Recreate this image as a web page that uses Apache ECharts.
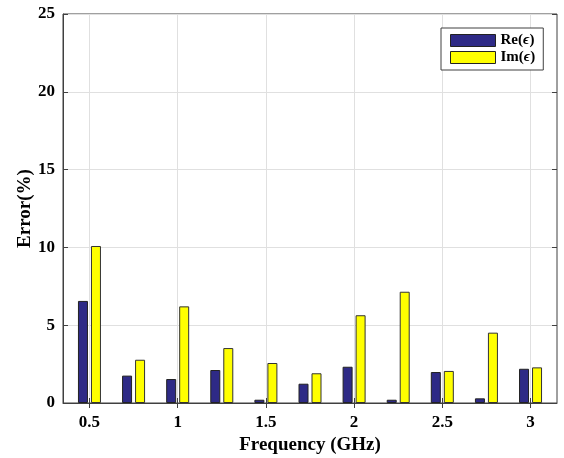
<!DOCTYPE html>
<html>
<head>
  <meta charset="UTF-8">
  <title>Error vs Frequency</title>
  <script src="https://cdn.jsdelivr.net/npm/echarts@6/dist/echarts.min.js"></script>
  <style>
    html, body { margin: 0; padding: 0; background: #fff; }
    #chart { width: 564px; height: 458px; }
  </style>
</head>
<body>
  <div id="chart"></div>
  <script>
    // data
    var freqs = [0.5, 0.75, 1, 1.25, 1.5, 1.75, 2, 2.25, 2.5, 2.75, 3];
    var reErr = [6.56, 1.76, 1.54, 2.12, 0.21, 1.24, 2.33, 0.21, 1.99, 0.30, 2.20];
    var imErr = [10.09, 2.78, 6.21, 3.53, 2.57, 1.91, 5.64, 7.15, 2.06, 4.52, 2.29];
    var xTicks = [0.5, 1, 1.5, 2, 2.5, 3];
    var seriesNames = ['Re', 'Im'];

    var font = 'Liberation Serif';
    var frame = '#404040';
    var chart = echarts.init(document.getElementById('chart'));

    function pairs(vals) {
      return freqs.map(function (f, i) { return [f, vals[i]]; });
    }

    var tickCommon = { show: true, inside: true, length: 5, lineStyle: { color: frame } };

    chart.setOption({
      animation: false,
      grid: {
        left: 63, right: 7, top: 14, bottom: 55,
        outerBoundsMode: 'none',
        containLabel: false,
        show: true, borderColor: frame, borderWidth: 1
      },
      legend: {
        orient: 'vertical',
        left: 441, top: 28,
        width: 102,
        padding: [5, 8, 5, 9],
        icon: 'rect',
        itemWidth: 45, itemHeight: 12, itemGap: 2,
        borderColor: frame, borderWidth: 1,
        backgroundColor: '#fff',
        data: seriesNames,
        itemStyle: { borderColor: '#222', borderWidth: 1 },
        formatter: function (name) {
          return '{b|' + name + '(}{i|\u03f5}{b|)}';
        },
        textStyle: {
          rich: {
            b: { fontFamily: font, fontWeight: 'bold', fontSize: 15, color: '#000' },
            i: { fontFamily: font, fontStyle: 'italic', fontWeight: 'bold', fontSize: 15, color: '#000' }
          }
        }
      },
      xAxis: [{
        type: 'value',
        min: 0.35, max: 3.15,
        name: 'Frequency (GHz)',
        nameLocation: 'middle',
        nameGap: 33,
        nameMoveOverlap: false,
        nameTextStyle: { fontFamily: font, fontWeight: 'bold', fontSize: 19, color: '#000' },
        axisLine: { show: true, lineStyle: { color: frame } },
        axisTick: Object.assign({ customValues: xTicks }, tickCommon),
        axisLabel: {
          customValues: xTicks, margin: 11,
          fontFamily: font, fontWeight: 'bold', fontSize: 17, color: '#000'
        },
        splitLine: { show: true, lineStyle: { color: '#e0e0e0' } }
      }, {
        type: 'value',
        position: 'top',
        min: 0.35, max: 3.15,
        axisLine: { show: false },
        axisTick: Object.assign({ customValues: xTicks }, tickCommon),
        axisLabel: { show: false },
        splitLine: { show: false }
      }],
      yAxis: [{
        type: 'value',
        min: 0, max: 25, interval: 5,
        name: 'Error(%)',
        nameLocation: 'middle',
        nameGap: 28,
        nameMoveOverlap: false,
        nameTextStyle: { fontFamily: font, fontWeight: 'bold', fontSize: 19, color: '#000' },
        axisLine: { show: true, lineStyle: { color: frame } },
        axisTick: tickCommon,
        axisLabel: { margin: 8, fontFamily: font, fontWeight: 'bold', fontSize: 17, color: '#000' },
        splitLine: { show: true, lineStyle: { color: '#e0e0e0' } }
      }, {
        type: 'value',
        position: 'right',
        min: 0, max: 25, interval: 5,
        axisLine: { show: false },
        axisTick: tickCommon,
        axisLabel: { show: false },
        splitLine: { show: false }
      }],
      series: [{
        name: seriesNames[0], type: 'bar',
        data: pairs(reErr),
        barWidth: 10, barGap: '30%',
        itemStyle: { color: '#2e2a86', borderColor: '#222', borderWidth: 1 }
      }, {
        name: seriesNames[1], type: 'bar',
        data: pairs(imErr),
        barWidth: 10, barGap: '30%',
        itemStyle: { color: '#ffff00', borderColor: '#333', borderWidth: 1 }
      }]
    });
  </script>
</body>
</html>
